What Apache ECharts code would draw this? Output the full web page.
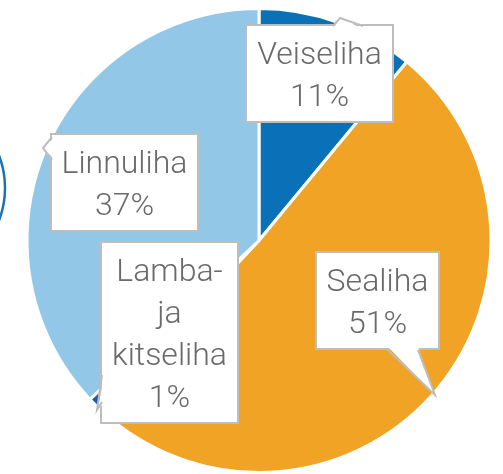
<!DOCTYPE html>
<html><head><meta charset="utf-8">
<script src="https://cdn.jsdelivr.net/npm/echarts@6/dist/echarts.min.js"></script>
<style>html,body{margin:0;padding:0;background:#fff}#c{width:503px;height:474px}</style>
</head><body><div id="c"></div>
<script>
const categories = ['Veiseliha', 'Sealiha', 'Lamba- ja kitseliha', 'Linnuliha'];
const shares = [11, 51, 1, 37];
const colors = ['#0a71b9', '#f0a324', '#1f5aa6', '#92c7e7'];

// callout box layout (pixels)
const boxes = [
  {x: 319.5, y: 26, w: 145},
  {x: 377.5, y: 253, w: 121},
  {x: 169.5, y: 243, w: 135},
  {x: 124.5, y: 135, w: 145}
];
const tails = [
  {line: [[333,26],[340,18],[363,26]], fill: [[333,29],[340,18],[363,29]]},
  {line: [[388,350],[435,395],[418,350]], fill: [[388,347],[435,395],[418,347]]},
  {line: [[102,375],[97,410],[102,402]], fill: [[105,375],[97,410],[105,402]]},
  {line: [[52,137],[43,148],[52,160]], fill: [[55,137],[43,148],[55,160]]}
];

const chart = echarts.init(document.getElementById('c'), null, {renderer: 'canvas'});
const data = categories.map((n, i) => ({
  name: n, value: shares[i],
  itemStyle: {color: colors[i]},
  label: {width: boxes[i].w}
}));

chart.setOption({
  animation: false,
  series: [{
    type: 'pie',
    center: [259, 240.5],
    radius: 232,
    startAngle: 90,
    clockwise: true,
    silent: true,
    itemStyle: {borderColor: '#fff', borderWidth: 3},
    label: {
      show: true, position: 'inside',
      formatter: p => p.name.replace(/ /g, '\n') + '\n' + p.value + '%',
      fontFamily: 'Roboto', fontWeight: 300, fontSize: 32, color: '#6a6a6a',
      lineHeight: 42, backgroundColor: '#fff', borderColor: '#bdbdbd', borderWidth: 2,
      padding: [9, 0, 2, 0], align: 'center'
    },
    labelLine: {show: false},
    labelLayout: params => {
      const b = boxes[params.dataIndex];
      return {x: b.x, y: b.y, align: 'center', verticalAlign: 'top'};
    },
    data: data
  }],
  graphic: [
    {type: 'circle', shape: {cx: -86, cy: 188, r: 91}, style: {fill: 'none', stroke: '#1a72b8', lineWidth: 2.5}, z: 0},
    ...tails.map(t => ({type: 'polygon', shape: {points: t.fill}, style: {fill: '#fff'}, z: 100})),
    ...tails.map(t => ({type: 'polyline', shape: {points: t.line}, style: {stroke: '#bdbdbd', lineWidth: 2, fill: null}, z: 101}))
  ]
});
</script>
</body></html>
